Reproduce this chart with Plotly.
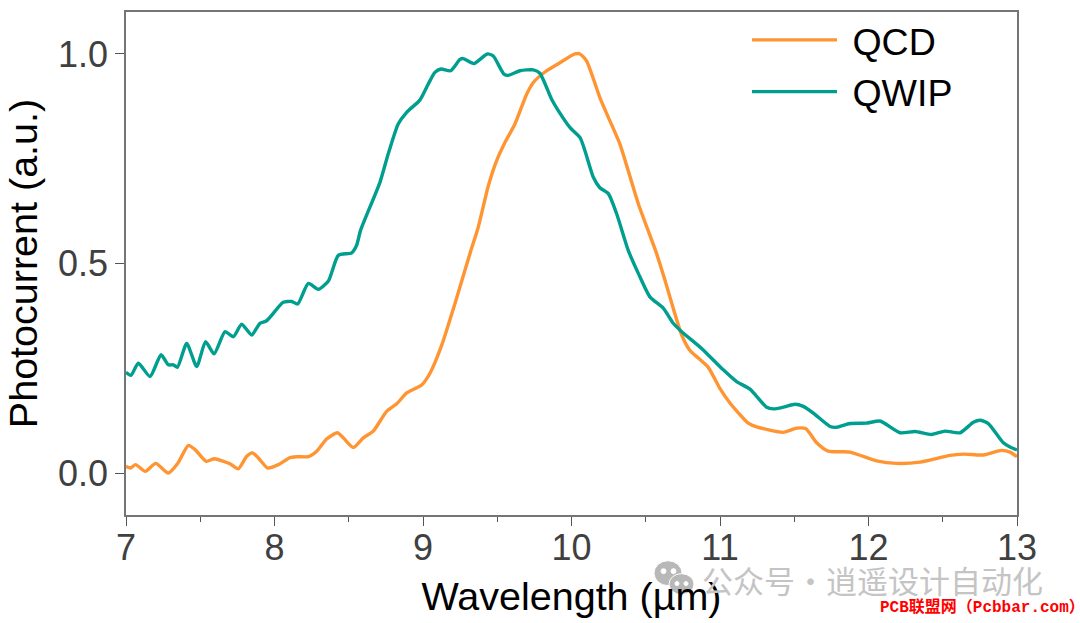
import plotly.graph_objects as go

# values
qcd_x = [7.00, 7.03, 7.065, 7.13, 7.20, 7.285, 7.35, 7.42, 7.465, 7.54, 7.595, 7.70, 7.756, 7.813, 7.851,
         7.891, 7.954, 8.026, 8.104, 8.149, 8.228, 8.284, 8.351, 8.423, 8.463, 8.531, 8.598, 8.665, 8.755,
         8.823, 8.89, 8.991, 9.047, 9.126, 9.222, 9.316, 9.372, 9.44, 9.496, 9.552, 9.619, 9.698, 9.743,
         9.821, 9.922, 10.023, 10.057, 10.102, 10.191, 10.248, 10.326, 10.45, 10.573, 10.629, 10.685,
         10.742, 10.798, 10.854, 10.921, 10.999, 11.067, 11.19, 11.247, 11.426, 11.516, 11.577, 11.651,
         11.729, 11.875, 12.055, 12.189, 12.347, 12.549, 12.638, 12.773, 12.896, 12.953, 13.0]
qcd_y = [0.017, 0.013, 0.021, 0.005, 0.024, 0.001, 0.025, 0.067, 0.057, 0.029, 0.035, 0.023, 0.011, 0.041,
         0.049, 0.037, 0.013, 0.021, 0.038, 0.040, 0.040, 0.053, 0.082, 0.097, 0.085, 0.062, 0.085, 0.101,
         0.148, 0.166, 0.192, 0.211, 0.239, 0.306, 0.413, 0.524, 0.587, 0.686, 0.746, 0.789, 0.833, 0.904,
         0.932, 0.957, 0.979, 1.0, 1.0, 0.983, 0.896, 0.849, 0.785, 0.643, 0.524, 0.461, 0.394, 0.330,
         0.293, 0.275, 0.253, 0.203, 0.168, 0.120, 0.111, 0.098, 0.108, 0.107, 0.073, 0.053, 0.051, 0.030,
         0.024, 0.027, 0.043, 0.046, 0.044, 0.055, 0.051, 0.040]

qwip_x = [7.00, 7.034, 7.083, 7.162, 7.236, 7.285, 7.319, 7.346, 7.409, 7.476, 7.536, 7.593, 7.667, 7.723,
          7.779, 7.846, 7.902, 7.947, 8.059, 8.116, 8.156, 8.228, 8.295, 8.363, 8.43, 8.52, 8.553, 8.58,
          8.71, 8.766, 8.833, 8.89, 8.979, 9.035, 9.08, 9.121, 9.186, 9.249, 9.271, 9.343, 9.433, 9.473,
          9.545, 9.574, 9.653, 9.743, 9.787, 9.866, 9.911, 9.989, 10.057, 10.09, 10.147, 10.191, 10.248,
          10.304, 10.382, 10.45, 10.528, 10.618, 10.685, 10.742, 10.876, 11.022, 11.112, 11.202, 11.314,
          11.359, 11.426, 11.505, 11.561, 11.628, 11.741, 11.785, 11.875, 11.987, 12.077, 12.212, 12.313,
          12.425, 12.515, 12.616, 12.706, 12.751, 12.807, 12.908, 12.953, 13.0]
qwip_y = [0.241, 0.234, 0.263, 0.231, 0.283, 0.259, 0.259, 0.253, 0.310, 0.255, 0.314, 0.285, 0.338, 0.326,
          0.356, 0.330, 0.358, 0.364, 0.408, 0.410, 0.404, 0.453, 0.439, 0.459, 0.520, 0.526, 0.544, 0.580,
          0.694, 0.762, 0.833, 0.861, 0.890, 0.928, 0.956, 0.964, 0.960, 0.987, 0.989, 0.977, 1.0, 0.995,
          0.952, 0.949, 0.960, 0.962, 0.954, 0.892, 0.865, 0.825, 0.801, 0.770, 0.706, 0.681, 0.667, 0.619,
          0.532, 0.477, 0.421, 0.394, 0.358, 0.338, 0.298, 0.247, 0.219, 0.201, 0.158, 0.154, 0.158, 0.165,
          0.160, 0.144, 0.112, 0.110, 0.119, 0.120, 0.125, 0.097, 0.100, 0.093, 0.101, 0.097, 0.122, 0.127,
          0.119, 0.073, 0.063, 0.056]

y_ticks = [0, 0.5, 1]
y_labels = ["0.0", "0.5", "1.0"]
x_ticks = [7, 8, 9, 10, 11, 12, 13]

W, H = 1080, 623
LEFT, RIGHT, TOP, BOTTOM = 126, 1017, 9, 515
FONT = "Liberation Sans"
AXIS = "#757575"


# paper coordinates are relative to the plot area, so convert from picture pixels
def px(x):
    return (x - LEFT) / (RIGHT - LEFT)


def py(y):
    return (BOTTOM - y) / (BOTTOM - TOP)


fig = go.Figure()
fig.add_trace(go.Scatter(x=qcd_x, y=qcd_y, name="\u00a0QCD", mode="lines",
                         line=dict(color="#FF9432", width=3.4, shape="spline", smoothing=0.6)))
fig.add_trace(go.Scatter(x=qwip_x, y=qwip_y, name="\u00a0QWIP", mode="lines",
                         line=dict(color="#009E8E", width=3.4, shape="spline", smoothing=0.6)))

fig.update_layout(
    width=W, height=H,
    margin=dict(l=LEFT, r=W - RIGHT, t=TOP, b=H - BOTTOM),
    paper_bgcolor="white", plot_bgcolor="white",
    font=dict(family=FONT, color="black"),
    legend=dict(x=px(747), y=py(6), xanchor="left", yanchor="top", bgcolor="rgba(0,0,0,0)",
                font=dict(size=37.5, color="black"), itemwidth=85, tracegroupgap=0),
)
fig.update_xaxes(
    range=[7, 13], tickvals=x_ticks, ticks="outside", ticklen=9, tickcolor="#555555",
    tickfont=dict(size=36, color="#404040"), showgrid=False, zeroline=False, ticklabelstandoff=-9,
    showline=True, linecolor=AXIS, linewidth=1.5, mirror=True,
    minor=dict(dtick=0.5, ticks="outside", ticklen=5, tickcolor="#555555", showgrid=False),
    title=dict(text="Wavelength (µm)", font=dict(size=39.5, color="black"), standoff=15),
)
fig.update_yaxes(
    range=[-0.099, 1.1], tickvals=y_ticks, ticktext=y_labels, ticks="outside", ticklen=9, tickcolor="#555555",
    tickfont=dict(size=36, color="#404040"), showgrid=False, zeroline=False,
    showline=True, linecolor=AXIS, linewidth=1.5, mirror=True,
    title=dict(text="Photocurrent (a.u.)", font=dict(size=39.5, color="black"), standoff=8),
)

# watermark
fig.add_annotation(text="公众号·逍遥设计自动化", xref="paper", yref="paper", x=px(703), y=py(580),
                   xanchor="left", yanchor="middle", showarrow=False, xshift=-3,
                   font=dict(family="Noto Sans CJK SC", size=31, color="#c4c4c4"))
fig.add_annotation(text="<b>PCB联盟网（Pcbbar.com）</b>", xref="paper", yref="paper", x=px(878), y=py(608),
                   xanchor="left", yanchor="middle", showarrow=False,
                   font=dict(family="Liberation Mono, Noto Sans CJK SC", size=16, color="#ff0000"))
for x0, y0, x1, y1, col in [(654, 561, 682, 586, "#b8b8b8"), (669, 574, 694, 595, "#b8b8b8"),
                            (661, 569, 666, 574, "white"), (671, 569, 676, 574, "white"),
                            (675, 582, 679, 586, "white"), (684, 582, 688, 586, "white")]:
    fig.add_shape(type="circle", xref="paper", yref="paper", x0=px(x0), x1=px(x1), y0=py(y0), y1=py(y1),
                  fillcolor=col, line=dict(color="white", width=1))

fig.write_html("out.html", config=dict(displayModeBar=False), post_script="document.body.style.margin='0';")
